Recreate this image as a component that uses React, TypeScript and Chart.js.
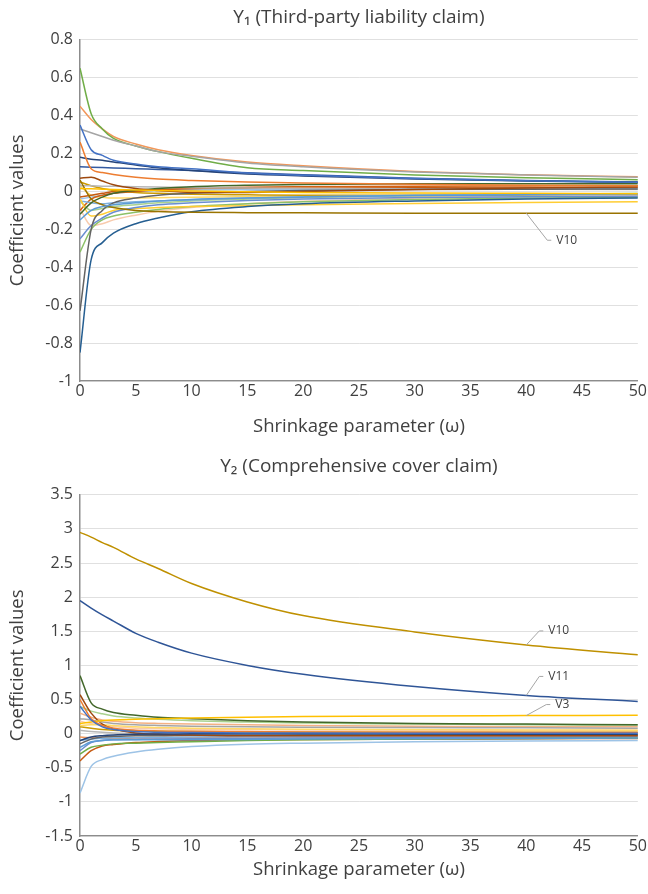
import React, { useEffect, useRef } from "react";
import Chart from "chart.js/auto";

// Shrinkage parameter values at which the coefficient paths are sampled
const OMEGA = [0, 1, 2, 3, 5, 7, 10, 15, 20, 30, 40, 50];

// ---------- Y1 (Third-party liability claim) ----------
const y1Green = [0.65, 0.41, 0.33, 0.28, 0.24, 0.21, 0.175, 0.125, 0.11, 0.087, 0.072, 0.062];
const y1LightOrange = [0.45, 0.38, 0.33, 0.29, 0.25, 0.22, 0.19, 0.155, 0.135, 0.105, 0.088, 0.077];
const y1Gray = [0.33, 0.31, 0.29, 0.27, 0.24, 0.21, 0.185, 0.15, 0.13, 0.103, 0.087, 0.075];
const y1Blue = [0.35, 0.22, 0.19, 0.165, 0.145, 0.13, 0.12, 0.097, 0.085, 0.068, 0.056, 0.048];
const y1DarkBlue = [0.18, 0.17, 0.165, 0.155, 0.14, 0.125, 0.11, 0.092, 0.082, 0.066, 0.055, 0.048];
const y1MidBlue = [0.13, 0.128, 0.126, 0.124, 0.12, 0.116, 0.11, 0.098, 0.088, 0.07, 0.058, 0.05];
const y1Orange = [0.26, 0.12, 0.1, 0.09, 0.075, 0.065, 0.058, 0.05, 0.045, 0.038, 0.033, 0.03];
const y1Brown = [0.07, 0.075, 0.055, 0.035, 0.015, 0.005, -0.005, -0.005, 0.0, 0.01, 0.018, 0.024];
const y1LightGray = [0.03, 0.03, 0.028, 0.027, 0.025, 0.023, 0.02, 0.018, 0.016, 0.013, 0.011, 0.01];
const y1Gold = [0.015, 0.014, 0.012, 0.01, 0.008, 0.005, 0.002, -0.002, -0.005, -0.008, -0.01, -0.012];
const y1V10 = [0.06, -0.04, -0.07, -0.085, -0.1, -0.106, -0.11, -0.112, -0.113, -0.115, -0.115, -0.115];
const y1GoldDip = [-0.04, -0.13, -0.12, -0.1, -0.09, -0.085, -0.08, -0.075, -0.07, -0.063, -0.058, -0.055];
const y1PeachDip = [-0.09, -0.18, -0.17, -0.15, -0.125, -0.105, -0.085, -0.065, -0.052, -0.035, -0.025, -0.02];
const y1DarkGray = [-0.63, -0.2, -0.1, -0.06, -0.035, -0.02, -0.01, 0.0, 0.005, 0.01, 0.012, 0.013];
const y1Navy = [-0.85, -0.36, -0.27, -0.22, -0.17, -0.14, -0.107, -0.08, -0.065, -0.05, -0.04, -0.035];
const y1GreenNeg = [-0.32, -0.2, -0.15, -0.13, -0.11, -0.095, -0.08, -0.065, -0.055, -0.042, -0.035, -0.03];
const y1BlueNeg = [-0.25, -0.18, -0.14, -0.11, -0.085, -0.07, -0.06, -0.048, -0.04, -0.032, -0.028, -0.025];
const y1SkyNeg = [-0.15, -0.1, -0.08, -0.07, -0.06, -0.05, -0.042, -0.035, -0.03, -0.022, -0.018, -0.015];
const y1Sky2 = [-0.05, -0.06, -0.065, -0.06, -0.055, -0.05, -0.045, -0.035, -0.028, -0.02, -0.015, -0.012];
const y1PaleGreen = [-0.05, -0.1, -0.09, -0.08, -0.07, -0.06, -0.05, -0.04, -0.032, -0.022, -0.015, -0.01];
const y1DarkGreen = [-0.12, -0.06, -0.03, -0.01, 0.005, 0.015, 0.025, 0.033, 0.037, 0.04, 0.04, 0.04];
const y1Orange2 = [-0.1, -0.04, -0.02, -0.01, 0.0, 0.008, 0.015, 0.022, 0.025, 0.028, 0.029, 0.03];
const y1Rust = [-0.03, -0.02, -0.01, 0.0, 0.005, 0.01, 0.012, 0.015, 0.017, 0.019, 0.02, 0.02];
const y1DarkGold = [0.05, 0.03, 0.015, 0.005, -0.005, -0.01, -0.015, -0.018, -0.02, -0.02, -0.02, -0.02];
const y1PaleBlue = [-0.04, -0.03, -0.02, -0.01, 0.0, 0.005, 0.008, 0.01, 0.012, 0.014, 0.015, 0.015];
const y1Yellow2 = [0.03, -0.02, -0.03, -0.035, -0.035, -0.033, -0.03, -0.028, -0.027, -0.025, -0.025, -0.025];

const Y1_SERIES = [
  { name: "V1", color: "#4472C4", values: y1Blue },
  { name: "V2", color: "#ED7D31", values: y1Orange },
  { name: "V3", color: "#A5A5A5", values: y1Gray },
  { name: "V4", color: "#FFC000", values: y1Gold },
  { name: "V5", color: "#5B9BD5", values: y1SkyNeg },
  { name: "V6", color: "#70AD47", values: y1Green },
  { name: "V7", color: "#264478", values: y1DarkBlue },
  { name: "V8", color: "#9E480E", values: y1Brown },
  { name: "V9", color: "#636363", values: y1DarkGray },
  { name: "V10", color: "#997300", values: y1V10 },
  { name: "V11", color: "#255E91", values: y1Navy },
  { name: "V12", color: "#43682B", values: y1DarkGreen },
  { name: "V13", color: "#698ED0", values: y1BlueNeg },
  { name: "V14", color: "#F1975A", values: y1LightOrange },
  { name: "V15", color: "#B7B7B7", values: y1LightGray },
  { name: "V16", color: "#FFCD33", values: y1GoldDip },
  { name: "V17", color: "#7CAFDD", values: y1Sky2 },
  { name: "V18", color: "#8CC168", values: y1GreenNeg },
  { name: "V19", color: "#335AA1", values: y1MidBlue },
  { name: "V20", color: "#D26012", values: y1Orange2 },
  { name: "V21", color: "#F8CBAD", values: y1PeachDip },
  { name: "V22", color: "#CC9A00", values: y1DarkGold },
  { name: "V23", color: "#9DC3E6", values: y1PaleBlue },
  { name: "V24", color: "#A9D18E", values: y1PaleGreen },
  { name: "V25", color: "#C55A11", values: y1Rust },
  { name: "V26", color: "#FFD966", values: y1Yellow2 },
];

// ---------- Y2 (Comprehensive cover claim) ----------
const y2V10 = [2.95, 2.88, 2.8, 2.73, 2.56, 2.42, 2.2, 1.93, 1.73, 1.49, 1.3, 1.155];
const y2V11 = [1.95, 1.84, 1.74, 1.65, 1.47, 1.34, 1.18, 1.0, 0.87, 0.69, 0.56, 0.47];
const y2V3 = [0.15, 0.17, 0.19, 0.2, 0.21, 0.22, 0.23, 0.24, 0.25, 0.26, 0.265, 0.27];
const y2DarkGreen = [0.85, 0.45, 0.36, 0.31, 0.27, 0.24, 0.22, 0.19, 0.17, 0.15, 0.14, 0.13];
const y2PaleGreen = [0.4, 0.33, 0.29, 0.26, 0.23, 0.21, 0.19, 0.17, 0.155, 0.14, 0.13, 0.125];
const y2Brown = [0.57, 0.3, 0.14, 0.07, 0.01, -0.01, -0.02, -0.03, -0.03, -0.03, -0.03, -0.03];
const y2Orange = [0.5, 0.22, 0.12, 0.08, 0.05, 0.04, 0.035, 0.03, 0.025, 0.02, 0.018, 0.015];
const y2Blue = [0.4, 0.2, 0.1, 0.06, 0.03, 0.02, 0.015, 0.01, 0.008, 0.006, 0.005, 0.005];
const y2Pink = [0.3, 0.24, 0.2, 0.18, 0.16, 0.15, 0.14, 0.13, 0.12, 0.11, 0.1, 0.1];
const y2Gray = [0.22, 0.2, 0.17, 0.15, 0.13, 0.12, 0.11, 0.1, 0.095, 0.09, 0.085, 0.08];
const y2Yellow = [0.12, 0.13, 0.13, 0.12, 0.1, 0.09, 0.08, 0.07, 0.065, 0.06, 0.055, 0.05];
const y2Peach = [0.18, 0.15, 0.12, 0.1, 0.08, 0.07, 0.065, 0.06, 0.055, 0.05, 0.05, 0.05];
const y2DarkGold = [0.1, 0.08, 0.06, 0.05, 0.04, 0.035, 0.03, 0.025, 0.02, 0.02, 0.02, 0.02];
const y2DarkBlue = [-0.1, -0.05, -0.03, -0.02, -0.01, -0.005, 0.0, 0.0, 0.0, -0.005, -0.01, -0.01];
const y2SkyBig = [-0.87, -0.48, -0.38, -0.33, -0.27, -0.23, -0.19, -0.155, -0.14, -0.12, -0.108, -0.1];
const y2RustNeg = [-0.4, -0.25, -0.18, -0.16, -0.13, -0.115, -0.1, -0.09, -0.085, -0.08, -0.075, -0.07];
const y2GreenNeg = [-0.3, -0.2, -0.17, -0.15, -0.14, -0.13, -0.12, -0.1, -0.09, -0.08, -0.07, -0.065];
const y2BlueNeg = [-0.25, -0.13, -0.1, -0.09, -0.085, -0.08, -0.075, -0.07, -0.065, -0.06, -0.055, -0.05];
const y2MidBlue = [-0.2, -0.12, -0.1, -0.09, -0.09, -0.09, -0.09, -0.085, -0.08, -0.075, -0.07, -0.065];
const y2DarkGray = [-0.15, -0.08, -0.05, -0.04, -0.03, -0.03, -0.025, -0.025, -0.02, -0.02, -0.02, -0.02];
const y2OrangeNeg = [-0.05, -0.06, -0.07, -0.07, -0.065, -0.06, -0.055, -0.05, -0.05, -0.045, -0.04, -0.04];
const y2LightGray = [0.05, 0.03, 0.02, 0.01, 0.0, -0.01, -0.015, -0.02, -0.02, -0.02, -0.02, -0.02];
const y2Teal = [-0.1, -0.08, -0.07, -0.06, -0.06, -0.055, -0.05, -0.045, -0.04, -0.035, -0.03, -0.03];

const Y2_SERIES = [
  { name: "V1", color: "#4472C4", values: y2Blue },
  { name: "V2", color: "#ED7D31", values: y2Orange },
  { name: "V3", color: "#FFC000", values: y2V3 },
  { name: "V4", color: "#A5A5A5", values: y2Gray },
  { name: "V5", color: "#5B9BD5", values: y2MidBlue },
  { name: "V6", color: "#70AD47", values: y2GreenNeg },
  { name: "V7", color: "#264478", values: y2DarkBlue },
  { name: "V8", color: "#9E480E", values: y2Brown },
  { name: "V9", color: "#636363", values: y2DarkGray },
  { name: "V10", color: "#BF9000", values: y2V10 },
  { name: "V11", color: "#2F5597", values: y2V11 },
  { name: "V12", color: "#43682B", values: y2DarkGreen },
  { name: "V13", color: "#698ED0", values: y2BlueNeg },
  { name: "V14", color: "#F4B183", values: y2Pink },
  { name: "V15", color: "#B7B7B7", values: y2LightGray },
  { name: "V16", color: "#FFD966", values: y2Yellow },
  { name: "V17", color: "#9DC3E6", values: y2SkyBig },
  { name: "V18", color: "#A9D18E", values: y2PaleGreen },
  { name: "V19", color: "#C55A11", values: y2RustNeg },
  { name: "V20", color: "#F8CBAD", values: y2Peach },
  { name: "V21", color: "#CC9A00", values: y2DarkGold },
  { name: "V22", color: "#7CAFDD", values: y2Teal },
  { name: "V23", color: "#F1975A", values: y2OrangeNeg },
];

const Y1_LABELS = [{ series: "V10", at: 40, dx: 21, dy: 27, text: "V10" }];
const Y2_LABELS = [
  { series: "V10", at: 40, dx: 13, dy: -14, text: "V10" },
  { series: "V11", at: 40, dx: 13, dy: -19, text: "V11" },
  { series: "V3", at: 40, dx: 20, dy: -11, text: "V3" },
];

const FONT = "'Open Sans', 'Noto Sans', sans-serif";
const TEXT = "#404040";

const leaderPlugin = {
  id: "leaders",
  afterDatasetsDraw(chart: any, _args: any, opts: any) {
    const ctx = chart.ctx;
    const items = (opts && opts.items) || [];
    items.forEach((it: any) => {
      const di = chart.data.datasets.findIndex((d: any) => d.label === it.series);
      if (di < 0) return;
      const pt = chart.getDatasetMeta(di).data[OMEGA.indexOf(it.at)];
      if (!pt) return;
      const x0 = pt.x, y0 = pt.y;
      const x1 = x0 + it.dx, y1 = y0 + it.dy;
      ctx.save();
      ctx.strokeStyle = "#A6A6A6";
      ctx.lineWidth = 1;
      ctx.beginPath();
      ctx.moveTo(x0, y0);
      ctx.lineTo(x1, y1);
      ctx.lineTo(x1 + 4, y1);
      ctx.stroke();
      ctx.fillStyle = TEXT;
      ctx.font = "12px " + FONT;
      ctx.textBaseline = "middle";
      ctx.textAlign = "left";
      ctx.fillText(it.text, x1 + 9, y1);
      ctx.restore();
    });
  },
};

function fmt(v: number) {
  const r = Math.round(v * 10) / 10;
  return String(r);
}

type Lay = { padTop: number; titleGap: number; xHeight: number; xTitlePad: number };

function makeConfig(series: any[], title: string, min: number, max: number, step: number, labels: any[], lay: Lay) {
  return {
    type: "line" as const,
    data: {
      datasets: series.map((s) => ({
        label: s.name,
        data: OMEGA.map((w, i) => ({ x: w, y: s.values[i] })),
        borderColor: s.color,
        backgroundColor: s.color,
        borderWidth: 1.5,
        pointRadius: 0,
        cubicInterpolationMode: "monotone" as const,
        fill: false,
      })),
    },
    options: {
      responsive: true,
      maintainAspectRatio: false,
      animation: false as const,
      layout: { padding: { left: 0, right: 10, top: lay.padTop, bottom: 6 } },
      plugins: {
        legend: { display: false },
        tooltip: { enabled: false },
        title: {
          display: true,
          text: title,
          fullSize: false,
          color: TEXT,
          font: { family: FONT, size: 19, weight: "normal" as const },
          padding: { top: 0, bottom: lay.titleGap },
        },
        leaders: { items: labels },
      },
      scales: {
        x: {
          type: "linear" as const,
          min: 0,
          max: 50,
          ticks: {
            stepSize: 5,
            color: TEXT,
            font: { family: FONT, size: 16 },
            padding: 1,
            maxRotation: 0,
          },
          grid: { display: false, drawTicks: false },
          border: { display: true, color: "#8C8C8C", width: 1.2 },
          title: {
            display: true,
            text: "Shrinkage parameter (ω)",
            color: TEXT,
            font: { family: FONT, size: 18.5 },
            padding: { top: 0, bottom: lay.xTitlePad },
          },
          afterFit: (scale: any) => {
            scale.height = lay.xHeight;
          },
        },
        y: {
          min,
          max,
          ticks: {
            stepSize: step,
            color: TEXT,
            font: { family: FONT, size: 16 },
            padding: 7,
            callback: (v: any) => fmt(Number(v)),
          },
          grid: { color: "#E0E0E0", drawTicks: false },
          border: { display: true, color: "#8C8C8C", width: 1.5 },
          title: {
            display: true,
            text: "Coefficient values",
            color: TEXT,
            font: { family: FONT, size: 18.5 },
            padding: { top: 7, bottom: 0 },
          },
          afterFit: (scale: any) => {
            scale.width = 80;
          },
        },
      },
    },
    plugins: [leaderPlugin],
  };
}

function Panel(props: { cfg: any }) {
  const ref = useRef<HTMLCanvasElement | null>(null);
  useEffect(() => {
    if (!ref.current) return;
    const chart = new Chart(ref.current, props.cfg);
    return () => chart.destroy();
  }, []);
  return (
    <div style={{ position: "relative", width: 648, height: 447 }}>
      <canvas ref={ref} />
    </div>
  );
}

export default function App() {
  const c1 = makeConfig(Y1_SERIES, "Y₁ (Third-party liability claim)", -1, 0.8, 0.2, Y1_LABELS, {
    padTop: 6,
    titleGap: 11,
    xHeight: 60,
    xTitlePad: 3,
  });
  const c2 = makeConfig(Y2_SERIES, "Y₂ (Comprehensive cover claim)", -1.5, 3.5, 0.5, Y2_LABELS, {
    padTop: 8,
    titleGap: 17,
    xHeight: 52,
    xTitlePad: 7,
  });
  return (
    <div style={{ position: "absolute", left: 0, top: 0, width: 648, height: 894, background: "#fff" }}>
      <Panel cfg={c1} />
      <Panel cfg={c2} />
    </div>
  );
}
